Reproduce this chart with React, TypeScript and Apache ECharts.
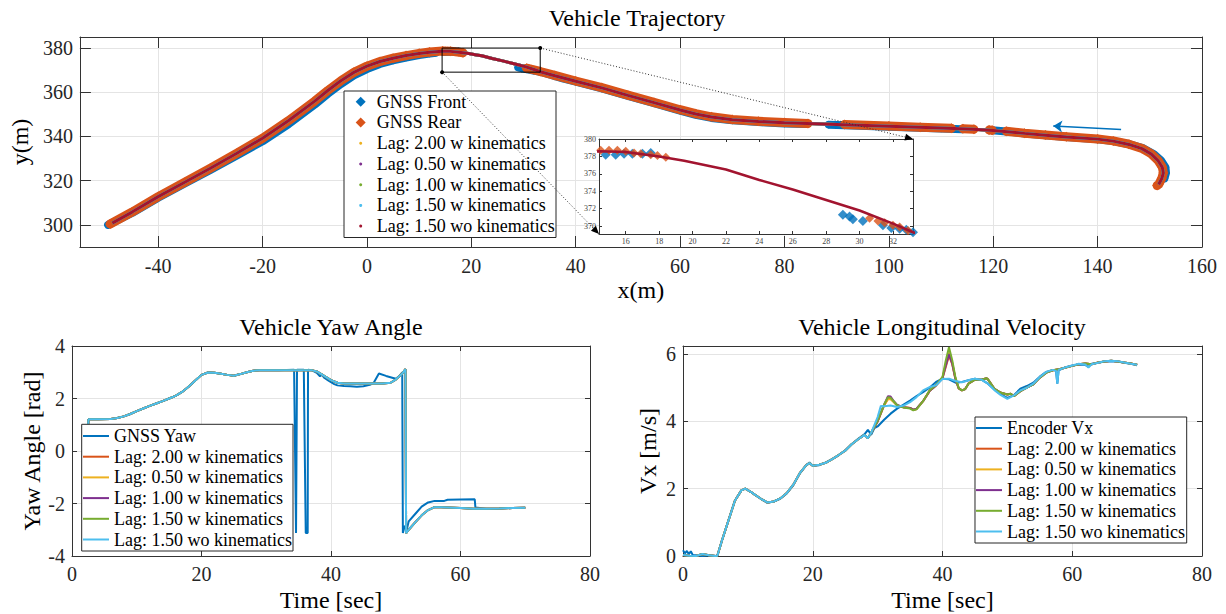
import React, { useEffect, useRef } from "react";
import * as echarts from "echarts";

const FONT = "Liberation Serif, serif";
const BLUE = "#0072BD";
const ORANGE = "#D95319";
const YELLOW = "#EDB120";
const PURPLE = "#7E2F8E";
const GREEN = "#77AC30";
const CYAN = "#4DBEEE";
const MAROON = "#A2142F";
const AXIS = "#333333";
const GRIDC = "#e4e4e4";

const lagNames = [
  "Lag: 2.00 w kinematics",
  "Lag: 0.50 w kinematics",
  "Lag: 1.00 w kinematics",
  "Lag: 1.50 w kinematics",
  "Lag: 1.50 wo kinematics",
];

// ---------- Trajectory (x, y in m) ----------
const trajLag = [
  [-48.8, 300.8], [-45, 305.8], [-40, 312.8], [-35, 319.2], [-30, 325.6], [-25, 332.3], [-20, 339.2],
  [-15, 347.2], [-10, 356], [-7.5, 360.8], [-5, 365.2], [-2.5, 369], [0, 371.8], [2.5, 373.9], [5, 375.4],
  [7.5, 376.6], [10, 377.5], [12, 378.1], [14.4, 378.6], [16, 378.5], [18, 378.0], [19.5, 377.5], [21, 376.9],
  [22, 376.5], [24, 375.3], [26, 374.2], [28, 373.0], [30, 371.8], [32, 370.3], [33.2, 369.3], [36, 367.5],
  [40, 365], [45, 362], [50, 358.6], [55, 355.3], [60, 352], [63, 350.2], [66, 348.8], [70, 347.6], [75, 346.8],
  [80, 346.2], [90, 345.4], [100, 344.6], [110, 343.8], [116, 343.3], [120, 342.7], [126, 341.4], [130, 340.6],
  [134, 339.8], [140, 338.8], [143, 337.9], [146, 336.4], [148.5, 334.5], [150.3, 332], [151.6, 329],
  [152.4, 326], [152.6, 323.5], [152.3, 321], [151.7, 318.3],
];

const gnssRearBand = [
  [-49.2, 300.4], [-45, 305.8], [-40, 312.8], [-35, 319.2], [-30, 325.6], [-25, 332.3], [-20, 339.2],
  [-15, 347.2], [-10, 356], [-7.5, 360.8], [-5, 365.2], [-2.5, 369], [0, 371.8], [2.5, 373.9], [5, 375.4],
  [7.5, 376.6], [10, 377.6], [12, 378.2], [14.5, 378.7], [16, 378.6], [18.4, 377.9], [24, "-"],
  [30.6, 370.9], [33.2, 369.4], [36, 367.6], [40, 365.1], [45, 362.1], [50, 358.7], [55, 355.4], [60, 352.1],
  [63, 350.3], [66, 348.9], [70, 347.7], [75, 346.9], [80, 346.3], [84.5, 345.9], [87, "-"],
  [91.5, 345.4], [100, 344.7], [106, 344.2], [112, 343.7], [113, "-"], [114.2, 343.5], [116.3, 343.3],
  [117.5, "-"], [119.2, 342.9], [119.8, 342.8], [121, "-"], [122.5, 342.4], [126, 341.5], [130, 340.7],
  [134, 339.9], [140, 338.9], [143, 338], [146, 336.5], [148.5, 334.6], [150.3, 332.1], [151.6, 329.1],
  [152.4, 326.1], [152.6, 323.6], [152.3, 321.1], [151.7, 318.3], [151.4, 317.8],
];

const gnssFrontBand = [
  [-49.6, 300], [-45, 305.4], [-40, 312.3], [-35, 318.6], [-30, 324.9], [-25, 331.3], [-20, 337.8],
  [-15, 345.6], [-10, 354.4], [-7.5, 359.3], [-5, 363.7], [-2.5, 367.6], [0, 370.5], [2.5, 372.8],
  [5, 374.4], [7.5, 375.7], [10, 376.8], [12, 377.5], [13.2, 377.9], [14, "-"], [14.8, 378.2],
  [17.5, 378.4], [23, "-"], [29, 371.3], [30.2, 370.6], [31.4, 370.1], [33.2, 369.3], [37.5, 366.3],
  [40, 364.8], [45, 361.8], [50, 358.4], [55, 355.1], [60, 351.7], [63, 349.8], [66, 348.4], [70, 347.3],
  [75, 346.5], [80, 345.9], [84, 345.6], [86, "-"], [88.5, 345.3], [91.5, 345.1], [100, 344.4],
  [110, 343.6], [114, 343.3], [117, "-"], [119.8, 342.8], [122.5, 342.3], [126, 341.3], [130, 340.5],
  [134, 339.7], [140, 338.7], [143, 337.9], [146, 336.5], [148.8, 334.6], [150.8, 332], [152.2, 329],
  [153, 326], [153.1, 323.5], [152.8, 321],
];

const gnssFrontPts = [
  [14.8, 378.2], [15.4, 378.2], [15.9, 378.3], [16.4, 378.3], [17, 378.3], [17.5, 378.4],
  [29, 371.3], [29.4, 371.1], [29.6, 370.8], [30.2, 370.6], [31.4, 370.1], [31.9, 369.8],
  [32.4, 369.7], [32.8, 369.6], [33.2, 369.3],
];
const gnssRearPts = [
  [14.5, 378.7], [15, 378.7], [15.5, 378.7], [16, 378.6], [16.5, 378.4], [16.9, 378.3], [17.5, 378.2],
  [17.9, 378.1], [18.4, 377.9], [30.6, 370.9], [31.1, 370.6], [31.5, 370.4], [32, 370.1], [32.4, 369.9],
  [32.9, 369.5],
];

const directionArrow = [[144.5, 343.2], [131.5, 344.7]];
const INSET = { xMin: 14.4, xMax: 33.2, yMin: 369.1, yMax: 380 };

// ---------- Yaw (t sec, rad) ----------
const yawLag = [
  [2.5, 1.02], [2.55, 1.21], [4, 1.21], [6, 1.22], [7, 1.26], [8, 1.32], [9, 1.41], [10, 1.52], [11, 1.62],
  [12, 1.72], [13, 1.81], [14, 1.9], [15, 2.0], [16, 2.1], [17, 2.25], [18, 2.45], [19, 2.68], [20, 2.9],
  [21, 2.99], [22, 2.98], [23, 2.94], [24, 2.9], [25, 2.87], [26, 2.93], [27, 3.0], [28, 3.06], [29, 3.08],
  [30, 3.08], [32, 3.08], [34, 3.08], [36, 3.08], [37, 3.08], [37.8, 3.03], [38.5, 2.93], [39, 2.85],
  [40, 2.7], [41, 2.6], [42, 2.57], [44, 2.57], [46, 2.57], [48, 2.57], [49.2, 2.6], [50, 2.72], [51, 2.95],
  [51.5, 3.12], [51.6, -3.13], [52, -3.0], [53, -2.72], [54, -2.45], [55, -2.25], [56, -2.14], [57, -2.14],
  [58, -2.15], [60, -2.17], [62, -2.2], [64, -2.2], [66, -2.19], [68, -2.17], [70, -2.16],
];
const yawGnss = [
  [2.5, 1.02], [2.55, 1.21], [4, 1.21], [6, 1.22], [7, 1.26], [8, 1.32], [9, 1.41], [10, 1.52], [11, 1.62],
  [12, 1.72], [13, 1.81], [14, 1.9], [15, 2.0], [16, 2.1], [17, 2.25], [18, 2.45], [19, 2.68], [20, 2.9],
  [21, 2.99], [22, 2.98], [23, 2.94], [24, 2.9], [25, 2.87], [26, 2.93], [27, 3.0], [28, 3.06], [29, 3.08],
  [30, 3.08], [32, 3.08], [34.3, 3.1], [34.6, -3.12], [34.75, 3.1], [35.8, 3.1], [36.1, -3.12],
  [36.4, -3.12], [36.45, 3.1], [37, 3.08], [37.8, 2.98], [38.3, 2.85], [38.6, 2.9], [39, 2.78], [39.5, 2.7],
  [40, 2.62], [40.5, 2.55], [41, 2.5], [42, 2.48], [43, 2.47], [44, 2.45], [45, 2.47], [46, 2.52],
  [46.6, 2.6], [47.4, 2.95], [48.5, 2.86], [50, 2.75], [50.6, 2.86], [51, 3.0], [51.1, -3.12],
  [51.4, -2.85], [51.7, -3.0], [52, -2.68], [53, -2.4], [54, -2.12], [55, -1.96], [56, -1.9],
  [57.5, -1.9], [58, -1.86], [60, -1.85], [62.2, -1.84], [62.3, -2.15], [64, -2.2], [66, -2.19],
  [68, -2.17], [70, -2.16],
];

// ---------- Longitudinal velocity (t sec, m/s) ----------
const velEncoder = [
  [0, 0.17], [0.3, 0.08], [0.6, 0.15], [0.9, 0.05], [1.2, 0.14], [1.5, 0.03], [2, 0.02], [3, 0.0], [4, 0.02],
  [5, 0.0], [5.3, 0.02], [6, 0.45], [7, 1.05], [8, 1.65], [9, 1.95], [9.6, 2.0], [10.5, 1.9], [11, 1.83],
  [12, 1.7], [13, 1.58], [14, 1.62], [15, 1.7], [16, 1.86], [17, 2.1], [18, 2.45], [19, 2.7], [19.5, 2.78],
  [20, 2.68], [21, 2.7], [22, 2.78], [23, 2.88], [24, 3.0], [25, 3.14], [26, 3.32], [27, 3.48], [28, 3.62],
  [28.5, 3.75], [29, 3.6], [29.5, 3.8], [30, 3.85], [31, 4.05], [32, 4.23], [33, 4.38], [34, 4.5],
  [35, 4.62], [36, 4.75], [37, 4.87], [38, 5.0], [39, 5.17], [40, 5.27], [41, 5.25], [42, 5.15],
  [43, 5.17], [44, 5.22], [45, 5.27], [46, 5.24], [47, 5.12], [48, 4.95], [49, 4.8], [50, 4.7],
  [51, 4.78], [52, 4.97], [53, 5.05], [54, 5.15], [55, 5.33], [56, 5.47], [57, 5.53], [57.5, 5.5],
  [57.7, 5.12], [57.9, 5.52], [59, 5.61], [60, 5.66], [61, 5.69], [62, 5.68], [62.5, 5.62], [63, 5.71],
  [64, 5.74], [65, 5.78], [66, 5.79], [67, 5.78], [68, 5.74], [69, 5.71], [70, 5.67],
];
const velCommonStart = [
  [0, 0.03], [1, 0.01], [2, 0.0], [3, 0.06], [4, 0.02], [5, 0.0], [5.3, 0.01], [6, 0.46], [7, 1.05],
  [8, 1.64], [9, 1.95], [9.6, 2.0], [10.5, 1.9], [11, 1.83], [12, 1.7], [13, 1.59], [14, 1.62], [15, 1.71],
  [16, 1.87], [17, 2.12], [18, 2.46], [19, 2.7], [19.5, 2.76], [20, 2.68], [21, 2.71], [22, 2.77],
  [23, 2.88], [24, 3.0], [25, 3.13], [26, 3.32], [27, 3.47], [28, 3.6], [28.5, 3.5], [29, 3.66],
];
const velMid200 = [
  [30, 4.0], [31, 4.48], [31.6, 4.68], [32, 4.68], [32.5, 4.58], [33, 4.48], [34, 4.42], [35, 4.4],
  [35.5, 4.34], [36, 4.37], [37, 4.6], [38, 4.9], [39, 5.07], [40, 5.28], [40.5, 5.62], [41, 5.95],
  [41.5, 5.7], [42, 5.25], [42.5, 4.98], [43, 4.92], [43.5, 4.96], [44, 5.12],
];
const velMid050 = [
  [30, 4.0], [31, 4.47], [31.6, 4.66], [32, 4.66], [32.5, 4.57], [33, 4.47], [34, 4.42], [35, 4.4],
  [35.5, 4.35], [36, 4.37], [37, 4.6], [38, 4.9], [39, 5.07], [40, 5.3], [40.5, 5.7], [41, 6.05],
  [41.5, 5.75], [42, 5.27], [42.5, 4.98], [43, 4.92], [43.5, 4.96], [44, 5.12],
];
const velMid100 = [
  [30, 4.0], [31, 4.5], [31.6, 4.75], [32, 4.74], [32.5, 4.6], [33, 4.49], [34, 4.42], [35, 4.4],
  [35.5, 4.35], [36, 4.38], [37, 4.6], [38, 4.9], [39, 5.07], [40, 5.29], [40.5, 5.66], [41, 6.0],
  [41.5, 5.72], [42, 5.26], [42.5, 4.98], [43, 4.92], [43.5, 4.96], [44, 5.12],
];
const velMid150 = [
  [30, 4.02], [31, 4.5], [31.6, 4.72], [32, 4.7], [32.5, 4.59], [33, 4.48], [34, 4.41], [35, 4.38],
  [35.5, 4.33], [36, 4.36], [37, 4.6], [38, 4.92], [39, 5.08], [40, 5.32], [40.5, 5.8], [41, 6.2],
  [41.5, 5.82], [42, 5.3], [42.5, 4.99], [43, 4.92], [43.5, 4.96], [44, 5.12],
];
const velKinEnd = [
  [45, 5.24], [46, 5.24], [46.8, 5.28], [47, 5.25], [48, 4.97], [49, 4.85], [50, 4.8], [50.5, 4.82],
  [51, 4.75], [52, 4.9], [53, 5.0], [54, 5.1], [55, 5.3], [56, 5.45], [57, 5.52], [58, 5.55], [59, 5.6],
  [60, 5.65], [61, 5.7], [62, 5.72], [63, 5.7], [64, 5.75], [65, 5.78], [66, 5.8], [67, 5.78],
  [68, 5.75], [69, 5.72], [70, 5.68],
];
const velWoTail = [
  [30, 4.13], [30.5, 4.46], [31, 4.45], [32, 4.47], [33, 4.43], [34, 4.47], [35, 4.57], [36, 4.72],
  [37, 4.92], [38, 5.02], [39, 5.07], [40, 5.26], [41, 5.27], [42, 5.2], [43, 5.16], [44, 5.22],
  [45, 5.27], [46, 5.24], [47, 5.12], [48, 4.93], [49, 4.78], [50, 4.67], [51, 4.77], [52, 4.92],
  [53, 5.0], [54, 5.12], [55, 5.32], [56, 5.47], [57, 5.53], [57.5, 5.5], [57.7, 5.12], [57.9, 5.53],
  [59, 5.61], [60, 5.66], [61, 5.71], [62, 5.69], [62.5, 5.6], [63, 5.7], [64, 5.74], [65, 5.79],
  [66, 5.8], [67, 5.79], [68, 5.75], [69, 5.71], [70, 5.68],
];

// ---------- helpers ----------
const tickLabel = { color: "#262626", fontSize: 20, fontFamily: FONT };
const nameStyle = { color: "#000", fontSize: 24, fontFamily: FONT };
const titleStyle = { fontSize: 24, fontWeight: "normal", fontFamily: FONT, color: "#000" };

function mainAxis(extra: any, tickLen: number, showLabel: boolean) {
  return {
    type: "value",
    axisLine: { show: true, onZero: false, lineStyle: { color: AXIS, width: 1 } },
    axisTick: { show: true, inside: true, length: tickLen, lineStyle: { color: AXIS, width: 1 } },
    axisLabel: showLabel ? { ...tickLabel, margin: 8 } : { show: false },
    splitLine: showLabel ? { show: true, lineStyle: { color: GRIDC, width: 1 } } : { show: false },
    nameTextStyle: nameStyle,
    ...extra,
  };
}

function lineSeries(name: string, data: any[], color: string, xi: number, yi: number, width = 2, z = 2) {
  return {
    type: "line", name, data, xAxisIndex: xi, yAxisIndex: yi, showSymbol: false, symbol: "none",
    lineStyle: { color, width }, itemStyle: { color }, z, silent: true, animation: false,
  };
}

function buildOption(extraGraphics: any[]) {
  const topLags = [YELLOW, PURPLE, GREEN, CYAN, MAROON];
  const botLags = [ORANGE, YELLOW, PURPLE, GREEN, CYAN];
  const velKin = [
    [...velCommonStart, ...velMid200, ...velKinEnd],
    [...velCommonStart, ...velMid050, ...velKinEnd],
    [...velCommonStart, ...velMid100, ...velKinEnd],
    [...velCommonStart, ...velMid150, ...velKinEnd],
  ];
  const velWo = [...velCommonStart, ...velWoTail];
  const zoomBox = [
    [INSET.xMin, INSET.yMin], [INSET.xMax, INSET.yMin], [INSET.xMax, INSET.yMax],
    [INSET.xMin, INSET.yMax], [INSET.xMin, INSET.yMin],
  ];

  const legendBase = {
    orient: "vertical", padding: 0, itemGap: 0.7, selectedMode: false, z: 11,
    textStyle: { color: "#000", fontSize: 18, fontFamily: FONT, lineHeight: 20 },
  };

  return {
    animation: false,
    backgroundColor: "#fff",
    textStyle: { fontFamily: FONT },
    title: [
      { text: "Vehicle Trajectory", left: 637, top: 6, textAlign: "center", padding: 0, textStyle: titleStyle },
      { text: "Vehicle Yaw Angle", left: 331, top: 315, textAlign: "center", padding: 0, textStyle: titleStyle },
      { text: "Vehicle Longitudinal Velocity", left: 942, top: 315, textAlign: "center", padding: 0, textStyle: titleStyle },
    ],
    grid: [
      { left: 72, top: 37, width: 1130, height: 210 },
      { left: 72, top: 346, width: 518, height: 210 },
      { left: 683, top: 346, width: 519, height: 210 },
      { left: 599, top: 139, width: 314, height: 95 },
    ],
    xAxis: [
      mainAxis({ gridIndex: 0, min: -55, max: 160, splitNumber: 11, position: "bottom", name: "x(m)",
        nameLocation: "middle", nameGap: 31,
        axisLabel: { ...tickLabel, margin: 9, showMinLabel: false } }, 11, true),
      mainAxis({ gridIndex: 0, min: -55, max: 160, splitNumber: 11, position: "top" }, 11, false),
      mainAxis({ gridIndex: 1, min: 0, max: 80, interval: 20, position: "bottom", name: "Time [sec]",
        nameLocation: "middle", nameGap: 32 }, 5, true),
      mainAxis({ gridIndex: 1, min: 0, max: 80, interval: 20, position: "top" }, 5, false),
      mainAxis({ gridIndex: 2, min: 0, max: 80, interval: 20, position: "bottom", name: "Time [sec]",
        nameLocation: "middle", nameGap: 32 }, 5, true),
      mainAxis({ gridIndex: 2, min: 0, max: 80, interval: 20, position: "top" }, 5, false),
      {
        ...mainAxis({ gridIndex: 3, min: INSET.xMin, max: INSET.xMax, splitNumber: 9, position: "bottom", z: 6 }, 3, true),
        axisLabel: { color: "#444", fontSize: 8, fontFamily: FONT, margin: 3, showMinLabel: false, showMaxLabel: false },
        splitLine: { show: false },
      },
      mainAxis({ gridIndex: 3, min: INSET.xMin, max: INSET.xMax, splitNumber: 9, position: "top", z: 6 }, 3, false),
    ],
    yAxis: [
      mainAxis({ gridIndex: 0, min: 290, max: 385, splitNumber: 5, position: "left", name: "y(m)",
        nameLocation: "middle", nameGap: 42, nameRotate: 90,
        axisLabel: { ...tickLabel, margin: 7, showMinLabel: false, showMaxLabel: false } }, 11, true),
      mainAxis({ gridIndex: 0, min: 290, max: 385, splitNumber: 5, position: "right" }, 11, false),
      mainAxis({ gridIndex: 1, min: -4, max: 4, interval: 2, position: "left", name: "Yaw Angle [rad]",
        nameLocation: "middle", nameGap: 26, nameRotate: 90,
        axisLabel: { ...tickLabel, margin: 7 } }, 5, true),
      mainAxis({ gridIndex: 1, min: -4, max: 4, interval: 2, position: "right" }, 5, false),
      mainAxis({ gridIndex: 2, min: 0, max: 6.24, interval: 2, position: "left", name: "Vx [m/s]",
        nameLocation: "middle", nameGap: 23, nameRotate: 90,
        axisLabel: { ...tickLabel, margin: 7, showMaxLabel: false } }, 5, true),
      mainAxis({ gridIndex: 2, min: 0, max: 6.24, interval: 2, position: "right" }, 5, false),
      {
        ...mainAxis({ gridIndex: 3, min: INSET.yMin, max: INSET.yMax, splitNumber: 5, position: "left", z: 6 }, 3, true),
        axisLabel: { color: "#444", fontSize: 8, fontFamily: FONT, margin: 3, showMinLabel: false },
        splitLine: { show: false },
      },
      mainAxis({ gridIndex: 3, min: INSET.yMin, max: INSET.yMax, splitNumber: 5, position: "right", z: 6 }, 3, false),
    ],
    legend: [
      { ...legendBase, left: 355.7, top: 91.7, itemWidth: 10, itemHeight: 10,
        textStyle: { ...legendBase.textStyle, padding: [0, 0, 0, 6] },
        data: [
          { name: "GNSS Front", icon: "diamond", itemStyle: { color: BLUE, borderWidth: 0 } },
          { name: "GNSS Rear", icon: "diamond", itemStyle: { color: ORANGE, borderWidth: 0 } },
        ] },
      { ...legendBase, left: 359.2, top: 133.3, itemWidth: 3, itemHeight: 3,
        textStyle: { ...legendBase.textStyle, padding: [0, 0, 0, 9.5] },
        data: lagNames.map((n, i) => ({ name: n, icon: "circle", itemStyle: { color: topLags[i], borderWidth: 0 } })) },
      { ...legendBase, left: 83, top: 426, itemWidth: 26, itemHeight: 2,
        data: ["GNSS Yaw", ...lagNames].map((n, i) => ({ name: n, icon: "rect",
          itemStyle: { color: [BLUE, ...botLags][i], borderWidth: 0 } })) },
      { ...legendBase, left: 976, top: 418, itemWidth: 26, itemHeight: 2,
        data: ["Encoder Vx", ...lagNames].map((n, i) => ({ name: n, icon: "rect",
          itemStyle: { color: [BLUE, ...botLags][i], borderWidth: 0 } })) },
    ],
    graphic: {
      elements: [
        { id: "lg0", type: "rect", z: 10, silent: true, shape: { x: 344, y: 91, width: 212, height: 146.5 },
          style: { fill: "#fff", stroke: "#262626", lineWidth: 1 } },
        { id: "lg1", type: "rect", z: 10, silent: true, shape: { x: 81.7, y: 424.3, width: 211.3, height: 126.7 },
          style: { fill: "#fff", stroke: "#262626", lineWidth: 1 } },
        { id: "lg2", type: "rect", z: 10, silent: true, shape: { x: 975, y: 417, width: 211.7, height: 126 },
          style: { fill: "#fff", stroke: "#262626", lineWidth: 1 } },
        { id: "insetbg", type: "rect", z: 5, silent: true, shape: { x: 599, y: 139, width: 314, height: 95 },
          style: { fill: "#fff" } },
        ...extraGraphics,
      ],
    },
    series: [
      // trajectory
      { type: "line", name: "GNSS Front", data: gnssFrontBand, xAxisIndex: 0, yAxisIndex: 0,
        symbol: "diamond", symbolSize: 8, showSymbol: true, showAllSymbol: true, connectNulls: false,
        lineStyle: { color: BLUE, width: 8, cap: "round", join: "round" }, itemStyle: { color: BLUE }, z: 1, silent: true },
      { type: "scatter", name: "GNSS Front", data: gnssFrontPts, xAxisIndex: 0, yAxisIndex: 0,
        symbol: "diamond", symbolSize: 8, itemStyle: { color: BLUE }, z: 1, silent: true },
      { type: "line", name: "GNSS Rear", data: gnssRearBand, xAxisIndex: 0, yAxisIndex: 0,
        symbol: "diamond", symbolSize: 10, showSymbol: true, showAllSymbol: true, connectNulls: false,
        lineStyle: { color: ORANGE, width: 9, cap: "round", join: "round" }, itemStyle: { color: ORANGE }, z: 2, silent: true },
      { type: "scatter", name: "GNSS Rear", data: gnssRearPts, xAxisIndex: 0, yAxisIndex: 0,
        symbol: "diamond", symbolSize: 9, itemStyle: { color: ORANGE }, z: 2, silent: true },
      ...lagNames.map((n, i) => lineSeries(n, trajLag, topLags[i], 0, 0, 3, 3)),
      { type: "line", name: "zoomBox", data: zoomBox, xAxisIndex: 0, yAxisIndex: 0, showSymbol: false,
        symbol: "none", lineStyle: { color: "#000", width: 1 }, z: 4, silent: true },
      { type: "lines", name: "direction", coordinateSystem: "cartesian2d", xAxisIndex: 0, yAxisIndex: 0,
        data: [{ coords: directionArrow }], symbol: ["none", "arrow"], symbolSize: 9,
        lineStyle: { color: BLUE, width: 1.5, opacity: 1 }, z: 4, silent: true },
      // inset
      { type: "scatter", name: "GNSS Front", data: gnssFrontPts, xAxisIndex: 6, yAxisIndex: 6,
        symbol: "diamond", symbolSize: 10, itemStyle: { color: BLUE }, z: 6, silent: true },
      { type: "scatter", name: "GNSS Rear", data: gnssRearPts, xAxisIndex: 6, yAxisIndex: 6,
        symbol: "diamond", symbolSize: 9, itemStyle: { color: ORANGE }, z: 6, silent: true },
      lineSeries(lagNames[4], trajLag, MAROON, 6, 6, 2.5, 7),
      // yaw
      lineSeries("GNSS Yaw", yawGnss, BLUE, 2, 2, 2),
      ...lagNames.map((n, i) => lineSeries(n, yawLag, botLags[i], 2, 2, 2)),
      // velocity
      lineSeries("Encoder Vx", velEncoder, BLUE, 4, 4, 2),
      ...velKin.map((d, i) => lineSeries(lagNames[i], d, botLags[i], 4, 4, 2)),
      lineSeries(lagNames[4], velWo, CYAN, 4, 4, 2),
    ],
  };
}

function arrowHead(tip: number[], from: number[], id: string) {
  const dx = tip[0] - from[0];
  const dy = tip[1] - from[1];
  const len = Math.sqrt(dx * dx + dy * dy) || 1;
  const ux = dx / len, uy = dy / len;
  const bx = tip[0] - ux * 8, by = tip[1] - uy * 8;
  const px = -uy * 3.5, py = ux * 3.5;
  return { id, type: "polygon", z: 12, silent: true,
    shape: { points: [[tip[0], tip[1]], [bx + px, by + py], [bx - px, by - py]] },
    style: { fill: "#000" } };
}

export default function App() {
  const ref = useRef<HTMLDivElement>(null);
  useEffect(() => {
    if (!ref.current) return;
    const chart = echarts.init(ref.current, null, { renderer: "svg" });
    chart.setOption(buildOption([]) as any);
    const a1 = chart.convertToPixel({ xAxisIndex: 0, yAxisIndex: 0 } as any, [INSET.xMax, INSET.yMax]) as number[];
    const b1 = chart.convertToPixel({ xAxisIndex: 6, yAxisIndex: 6 } as any, [INSET.xMax, INSET.yMax]) as number[];
    const a2 = chart.convertToPixel({ xAxisIndex: 0, yAxisIndex: 0 } as any, [INSET.xMin, INSET.yMin]) as number[];
    const b2 = chart.convertToPixel({ xAxisIndex: 6, yAxisIndex: 6 } as any, [INSET.xMin, INSET.yMin]) as number[];
    if (a1 && b1 && a2 && b2) {
      const extra = [
        { id: "c1", type: "line", z: 12, silent: true, shape: { x1: a1[0], y1: a1[1], x2: b1[0], y2: b1[1] },
          style: { stroke: "#333", lineWidth: 1, lineDash: [1, 2] } },
        { id: "c2", type: "line", z: 12, silent: true, shape: { x1: a2[0], y1: a2[1], x2: b2[0], y2: b2[1] },
          style: { stroke: "#333", lineWidth: 1, lineDash: [1, 2] } },
        { id: "d1", type: "circle", z: 12, silent: true, shape: { cx: a1[0], cy: a1[1], r: 2 }, style: { fill: "#000" } },
        { id: "d2", type: "circle", z: 12, silent: true, shape: { cx: a2[0], cy: a2[1], r: 2 }, style: { fill: "#000" } },
        arrowHead(b1, a1, "h1"),
        arrowHead(b2, a2, "h2"),
      ];
      chart.setOption(buildOption(extra) as any);
    }
    return () => chart.dispose();
  }, []);
  return (
    <div
      ref={ref}
      style={{ position: "absolute", left: 0, top: 0, width: 1226, height: 614, background: "#fff" }}
    />
  );
}
